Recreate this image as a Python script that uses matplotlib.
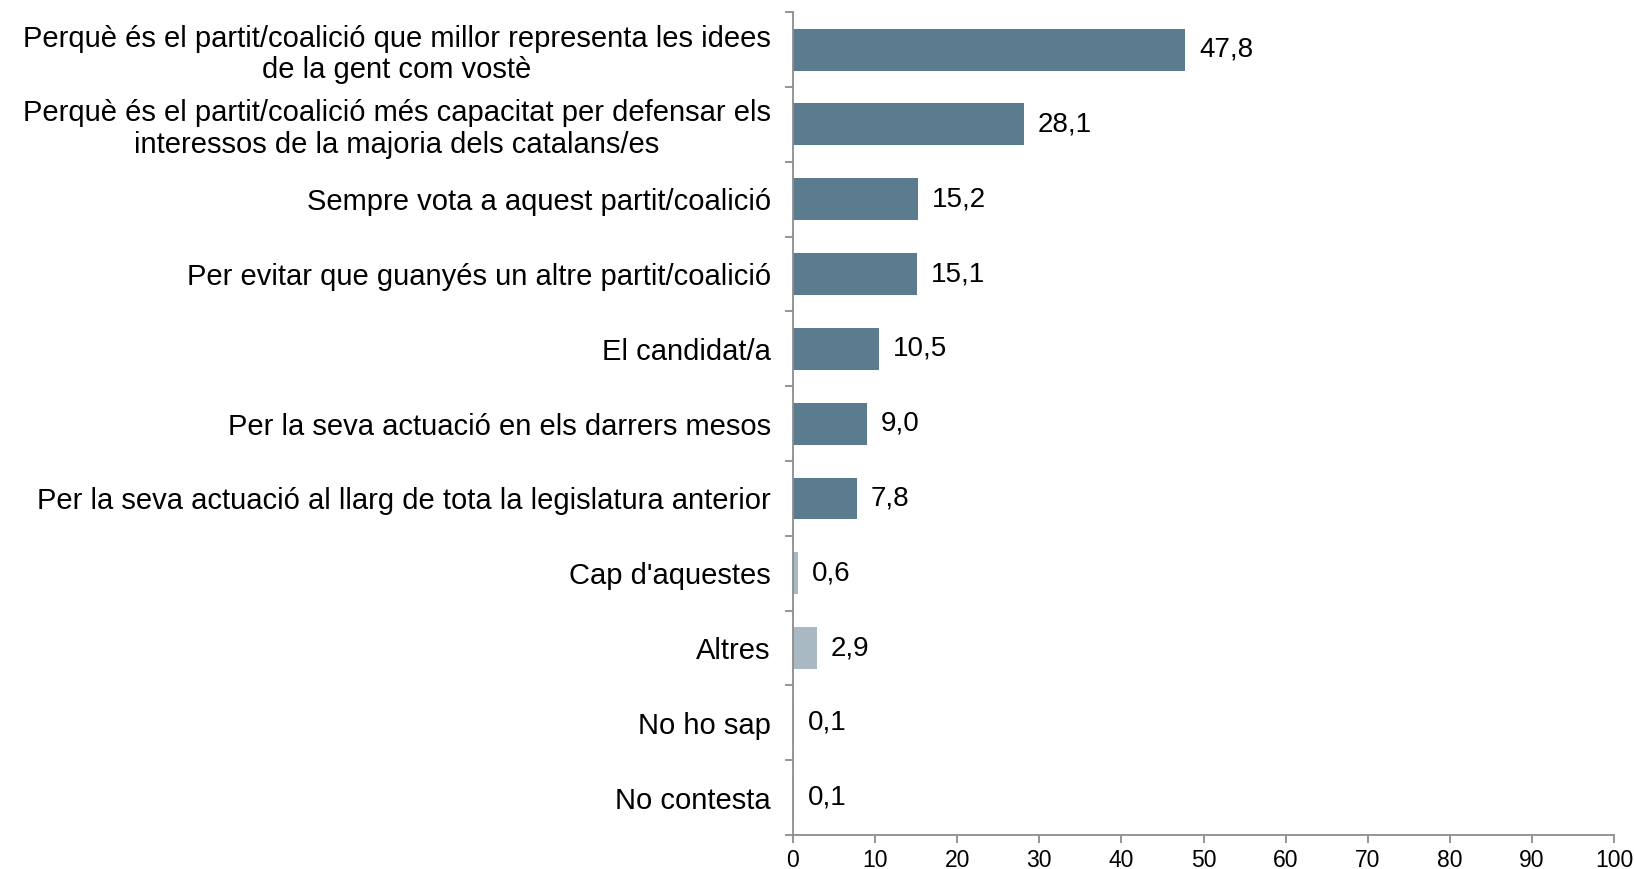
import matplotlib.pyplot as plt
import numpy as np

plt.rcParams['font.family'] = ['Liberation Sans', 'DejaVu Sans']

# Motius del vot (%)
categories = [
    "Perquè és el partit/coalició que millor representa les idees\nde la gent com vostè",
    "Perquè és el partit/coalició més capacitat per defensar els\ninteressos de la majoria dels catalans/es",
    "Sempre vota a aquest partit/coalició",
    "Per evitar que guanyés un altre partit/coalició",
    "El candidat/a",
    "Per la seva actuació en els darrers mesos",
    "Per la seva actuació al llarg de tota la legislatura anterior",
    "Cap d'aquestes",
    "Altres",
    "No ho sap",
    "No contesta",
]
values = [47.8, 28.1, 15.2, 15.1, 10.5, 9.0, 7.8, 0.6, 2.9, 0.1, 0.1]
secondary = [False] * 7 + [True] * 4

dark = '#5b7b8e'
light = '#a9b9c4'
axis_grey = '#8c8c8c'

fig = plt.figure(figsize=(16.34, 8.69), dpi=100)
ax = fig.add_axes([0.4853, 0.039, 0.5025, 0.947])

y = np.arange(len(categories))
colors = [light if s else dark for s in secondary]
ax.barh(y, values, height=0.56, color=colors)

# value labels in Catalan decimal format
for yi, v in zip(y, values):
    ax.annotate(f"{v:.1f}".replace('.', ','), (v, yi), xytext=(10, 0),
                textcoords='offset points', va='center', ha='left', fontsize=20)

ax.set_xlim(0, 100)
ax.set_ylim(len(categories) - 0.5, -0.5)
ax.set_xticks(np.arange(0, 101, 10))

ax.set_yticks(y)
ax.set_yticklabels(categories, fontsize=21, multialignment='center', linespacing=1.15)
ax.set_yticks(np.arange(-0.5, len(categories), 1), minor=True)
ax.tick_params(axis='y', which='major', length=0, pad=16)
ax.tick_params(axis='y', which='minor', length=6, color=axis_grey, width=1.3)
ax.tick_params(axis='x', length=6, color=axis_grey, width=1.3, labelsize=16.5, pad=4)

for side in ['top', 'right']:
    ax.spines[side].set_visible(False)
for side in ['left', 'bottom']:
    ax.spines[side].set_color(axis_grey)
    ax.spines[side].set_linewidth(1.3)

fig.savefig('out.png', dpi=100)
